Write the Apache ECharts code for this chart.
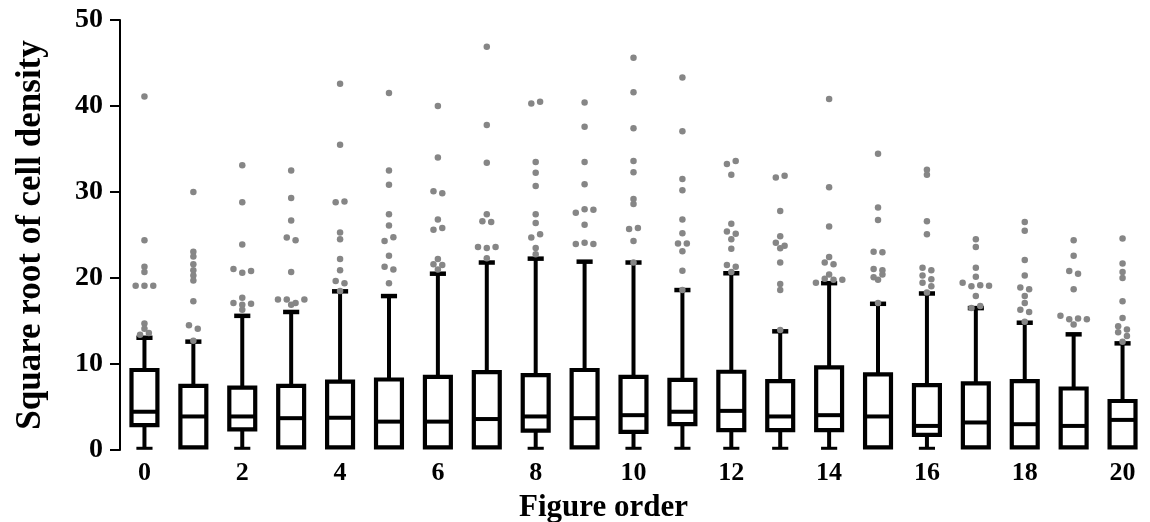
<!DOCTYPE html>
<html>
<head>
<meta charset="utf-8">
<script src="https://cdn.jsdelivr.net/npm/echarts@6/dist/echarts.min.js"></script>
<style>
html,body{margin:0;padding:0;background:#ffffff;}
#chart{width:1150px;height:522px;}
</style>
</head>
<body>
<div id="chart"></div>
<script>
// ---------------- data ----------------
const categories = ['0','1','2','3','4','5','6','7','8','9','10','11','12','13','14','15','16','17','18','19','20'];

const lowerWhisker = [0.2, 0.3, 0.2, 0.3, 0.3, 0.3, 0.3, 0.3, 0.2, 0.3, 0.2, 0.2, 0.2, 0.2, 0.2, 0.3, 0.2, 0.3, 0.3, 0.3, 0.3];
const q1Values     = [2.9, 0.3, 2.4, 0.3, 0.3, 0.3, 0.3, 0.3, 2.25, 0.3, 2.1, 3.0, 2.3, 2.3, 2.3, 0.3, 1.75, 0.3, 0.3, 0.3, 0.3];
const medianValues = [4.45, 3.9, 3.9, 3.7, 3.75, 3.3, 3.3, 3.6, 3.9, 3.7, 4.05, 4.45, 4.55, 3.9, 4.05, 3.9, 2.8, 3.2, 3.0, 2.8, 3.5];
const q3Values     = [9.3, 7.45, 7.25, 7.45, 7.95, 8.2, 8.5, 9.05, 8.7, 9.3, 8.5, 8.15, 9.1, 8.0, 9.6, 8.8, 7.55, 7.75, 8.0, 7.15, 5.7];
const upperWhisker = [13.05, 12.6, 15.6, 16.05, 18.45, 17.9, 20.5, 21.8, 22.25, 21.9, 21.8, 18.6, 20.55, 13.8, 19.4, 17.0, 18.2, 16.5, 14.8, 13.45, 12.4];

const outliers = [
  [41.1, 24.4, 21.3, 20.7, 19.1, 19.1, 19.1, 14.7, 14.1, 13.4, 13.6],
  [30.0, 23.05, 22.5, 21.6, 20.9, 20.3, 19.7, 17.3, 14.5, 14.1, 12.7],
  [33.1, 28.8, 23.9, 21.05, 20.62, 20.8, 17.7, 17.1, 16.9, 17.0, 16.3],
  [32.5, 29.3, 26.7, 24.7, 24.4, 20.7, 17.5, 17.5, 17.1, 17.5, 16.9],
  [42.6, 35.5, 28.8, 28.9, 25.3, 24.5, 22.2, 20.9, 19.65, 19.4, 18.5],
  [41.5, 32.5, 30.85, 27.4, 26.1, 24.3, 24.75, 22.6, 21.3, 21.0, 19.4],
  [40.0, 34.0, 30.1, 29.85, 26.8, 25.6, 25.8, 22.2, 21.6, 21.5, 21.0],
  [46.9, 37.8, 33.4, 27.4, 26.6, 26.5, 23.6, 23.5, 23.6, 22.3],
  [40.3, 40.5, 33.5, 32.25, 30.7, 27.4, 26.4, 24.7, 25.1, 23.5, 22.75],
  [40.4, 37.6, 33.5, 30.9, 27.6, 28.0, 27.95, 26.2, 23.95, 24.1, 23.95],
  [45.6, 41.6, 37.4, 33.6, 32.3, 29.2, 28.6, 25.7, 25.8, 24.3, 21.8],
  [43.3, 37.05, 31.5, 30.2, 26.8, 25.2, 24.0, 24.0, 23.1, 20.85, 18.6],
  [33.25, 33.6, 32.0, 26.3, 25.4, 25.15, 24.5, 23.4, 21.5, 21.3, 20.7],
  [31.7, 31.9, 27.8, 24.85, 24.1, 23.75, 23.45, 21.8, 19.3, 18.6, 13.95],
  [40.8, 30.55, 26.0, 22.45, 21.8, 21.6, 20.4, 19.45, 19.9, 19.8, 19.8],
  [34.45, 28.2, 26.75, 23.05, 23.0, 21.05, 20.9, 20.1, 20.4, 19.8, 17.1],
  [32.6, 32.0, 26.6, 25.1, 21.2, 20.9, 20.3, 19.85, 19.45, 19.05, 18.3],
  [24.5, 23.6, 21.2, 20.15, 19.45, 19.05, 19.15, 19.1, 17.9, 16.5, 16.75],
  [26.5, 25.5, 22.1, 20.3, 18.9, 18.7, 17.9, 17.1, 16.3, 16.05, 14.9],
  [24.4, 22.6, 20.8, 20.5, 18.7, 15.6, 15.2, 15.3, 15.2, 14.6],
  [24.6, 21.7, 20.7, 20.0, 17.3, 15.35, 14.4, 14.0, 13.7, 13.25, 12.6]
];

const yTicks = { min: 0, max: 50, interval: 10 };
const xAxisTitle = 'Figure order';
const yAxisTitle = 'Square root of cell density';

// ---------------- build series data ----------------
const boxData = categories.map((c, i) => [i, lowerWhisker[i], q1Values[i], medianValues[i], q3Values[i], upperWhisker[i]]);

// near-equal outliers are spread sideways (beeswarm-like grouping)
const GROUP_TOL = 0.48;   // value units
const DODGE_STEP = 8.8;   // px
const outlierData = [];
outliers.forEach((vals, i) => {
  const order = vals.map((v, k) => k).sort((a, b) => vals[b] - vals[a]);
  const groups = [];
  let cur = null;
  order.forEach(k => {
    if (cur && vals[cur.anchor] - vals[k] < GROUP_TOL) {
      cur.members.push(k);
    } else {
      cur = { anchor: k, members: [k] };
      groups.push(cur);
    }
  });
  groups.forEach(g => {
    const m = g.members.slice().sort((a, b) => a - b);
    const n = m.length;
    m.forEach((k, j) => {
      outlierData.push({ value: [i, vals[k]], symbolOffset: [(j - (n - 1) / 2) * DODGE_STEP, 0] });
    });
  });
});

const FONT = "'Liberation Serif', 'Times New Roman', serif";

const chart = echarts.init(document.getElementById('chart'), null, { renderer: 'canvas' });

chart.setOption({
  animation: false,
  backgroundColor: '#ffffff',
  grid: { left: 120, right: 3, top: 20, bottom: 72, containLabel: false, outerBoundsMode: 'none' },
  xAxis: {
    type: 'category',
    data: categories,
    boundaryGap: true,
    axisLine: { show: false },
    axisTick: { show: false },
    splitLine: { show: false },
    axisLabel: {
      interval: 1,
      margin: 10,
      color: '#000',
      fontFamily: FONT,
      fontWeight: 'bold',
      fontSize: 26
    },
    name: xAxisTitle,
    nameLocation: 'middle',
    nameGap: 42,
    nameTextStyle: {
      color: '#000',
      fontFamily: FONT,
      fontWeight: 'bold',
      fontSize: 31,
      padding: [0, 60, 0, 0]
    }
  },
  yAxis: {
    type: 'value',
    min: yTicks.min,
    max: yTicks.max,
    interval: yTicks.interval,
    axisLine: { show: true, lineStyle: { color: '#000', width: 2 } },
    axisTick: { show: true, length: 10, lineStyle: { color: '#000', width: 2 } },
    splitLine: { show: false },
    axisLabel: {
      margin: 17,
      color: '#000',
      fontFamily: FONT,
      fontWeight: 'bold',
      fontSize: 28
    },
    name: yAxisTitle,
    nameLocation: 'middle',
    nameGap: 72,
    nameTextStyle: {
      color: '#000',
      fontFamily: FONT,
      fontWeight: 'bold',
      fontSize: 35
    }
  },
  series: [
    {
      type: 'custom',
      name: 'boxes',
      z: 2,
      data: boxData,
      renderItem: function (params, api) {
        const i = api.value(0);
        const band = api.size([1, 0])[0];
        const bw = band * 0.53;
        const cw = band * 0.33;
        const x = api.coord([i, 0])[0];
        const yMin = api.coord([i, api.value(1)])[1];
        const yQ1 = api.coord([i, api.value(2)])[1];
        const yMed = api.coord([i, api.value(3)])[1];
        const yQ3 = api.coord([i, api.value(4)])[1];
        const yMax = api.coord([i, api.value(5)])[1];
        const stroke = { stroke: '#000', fill: null, lineCap: 'butt' };
        const children = [
          { type: 'line', shape: { x1: x, y1: yQ3, x2: x, y2: yMax }, style: Object.assign({ lineWidth: 4 }, stroke) },
          { type: 'line', shape: { x1: x - cw / 2, y1: yMax, x2: x + cw / 2, y2: yMax }, style: Object.assign({ lineWidth: 4.5 }, stroke) }
        ];
        if (api.value(1) < api.value(2) - 0.05) {
          children.push({ type: 'line', shape: { x1: x, y1: yQ1, x2: x, y2: yMin }, style: Object.assign({ lineWidth: 4 }, stroke) });
          children.push({ type: 'line', shape: { x1: x - cw / 2, y1: yMin, x2: x + cw / 2, y2: yMin }, style: Object.assign({ lineWidth: 3 }, stroke) });
        }
        children.push({ type: 'rect', shape: { x: x - bw / 2, y: yQ3, width: bw, height: yQ1 - yQ3 }, style: { stroke: '#000', fill: '#fff', lineWidth: 4.2 } });
        children.push({ type: 'line', shape: { x1: x - bw / 2, y1: yMed, x2: x + bw / 2, y2: yMed }, style: Object.assign({ lineWidth: 4 }, stroke) });
        return { type: 'group', children: children };
      }
    },
    {
      type: 'scatter',
      name: 'outliers',
      z: 5,
      symbol: 'circle',
      symbolSize: 6.5,
      itemStyle: { color: '#868686', opacity: 1 },
      data: outlierData
    }
  ]
});
</script>
</body>
</html>
